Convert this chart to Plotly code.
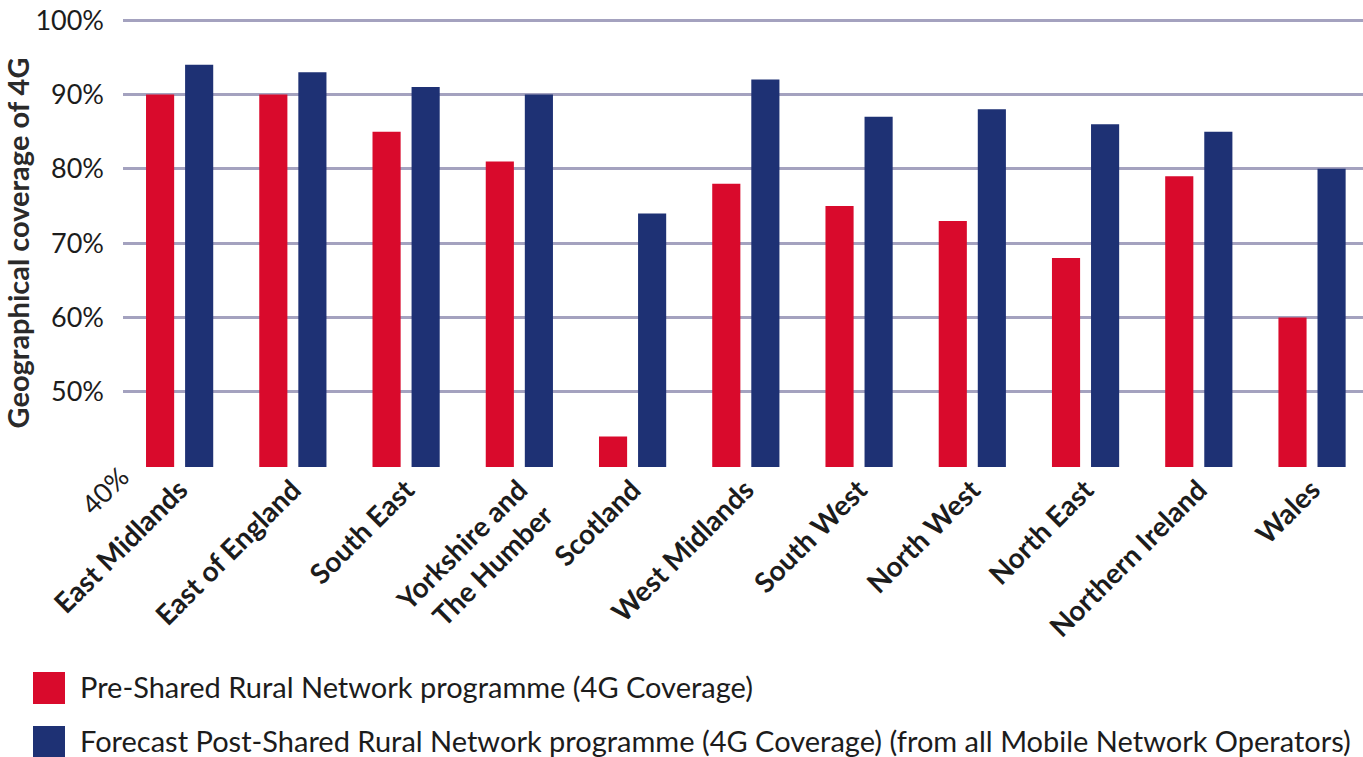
import plotly.graph_objects as go

# ---- data ----
regions = ["East Midlands", "East of England", "South East", "Yorkshire and<br>The Humber",
           "Scotland", "West Midlands", "South West", "North West", "North East",
           "Northern Ireland", "Wales"]
pre_srn = [90, 90, 85, 81, 44, 78, 75, 73, 68, 79, 60]
post_srn = [94, 93, 91, 90, 74, 92, 87, 88, 86, 85, 80]
series_names = ["Pre-Shared Rural Network programme (4G Coverage)",
                "Forecast Post-Shared Rural Network programme (4G Coverage) (from all Mobile Network Operators)"]
y_tick_vals = [40, 50, 60, 70, 80, 90, 100]
y_tick_text = ["", "50%", "60%", "70%", "80%", "90%", "100%"]
y_min_label = "40%"
y_title = "Geographical coverage of 4G"

# ---- styles ----
RED = "#d90a2c"
BLUE = "#1e3174"
GRID = "#a4a2bf"
TEXT = "#1c1c1c"
FONT = "Lato"

W, H = 1363, 757
L, R, T, B = 123, 0, 19, 290
PW, PH = W - L - R, H - T - B


def px_x(px):
    return (px - L) / PW


def px_y(py):
    return (H - B - py) / PH


fig = go.Figure()
fig.add_trace(go.Bar(x=regions, y=pre_srn, name=series_names[0], marker_color=RED,
                     marker_line_width=0, showlegend=False))
fig.add_trace(go.Bar(x=regions, y=post_srn, name=series_names[1], marker_color=BLUE,
                     marker_line_width=0, showlegend=False))

fig.update_layout(
    width=W, height=H,
    margin=dict(l=L, r=R, t=T, b=B, autoexpand=False),
    paper_bgcolor="white", plot_bgcolor="white",
    barmode="group", bargap=0.31, bargroupgap=0.28,
    font=dict(family=FONT, color=TEXT),
)
fig.update_xaxes(
    type="category", range=[-0.5, 10.45], automargin=False,
    tickangle=-45, showgrid=False, showline=False, zeroline=False, ticks="",
    tickfont=dict(family=FONT, size=28, color=TEXT, weight="bold"),
)
fig.update_yaxes(
    range=[39.9, 100.15], tickvals=y_tick_vals, ticktext=y_tick_text, automargin=False,
    showgrid=True, gridcolor=GRID, gridwidth=3, zeroline=False, showline=False,
    ticks="", ticklabelstandoff=18,
    tickfont=dict(family=FONT, size=27, color=TEXT),
    title=dict(text=y_title, standoff=12,
               font=dict(family=FONT, size=29, color="#2a2a2a", weight="bold")),
)

# rotated 40% label
fig.add_annotation(text=y_min_label, xref="paper", yref="y", x=0, y=40,
                   xshift=-52, yshift=-24, showarrow=False, textangle=-45,
                   font=dict(family=FONT, size=27, color=TEXT))

# legend drawn manually with large swatches
legend_rows = [(672, 704, RED), (726, 758, BLUE)]
for (y0, y1, col), name in zip(legend_rows, series_names):
    fig.add_shape(type="rect", xref="paper", yref="paper",
                  x0=px_x(33), x1=px_x(65), y0=px_y(y1), y1=px_y(y0),
                  fillcolor=col, line_width=0)
    fig.add_annotation(text=name, xref="paper", yref="paper",
                       x=px_x(78), y=px_y((y0 + y1) / 2 - 2), xanchor="left", yanchor="middle",
                       showarrow=False, font=dict(family=FONT, size=29, color=TEXT))

fig.write_html("out.html", config={"displayModeBar": False},
               post_script="document.body.style.margin='0';document.body.style.overflow='hidden';")
